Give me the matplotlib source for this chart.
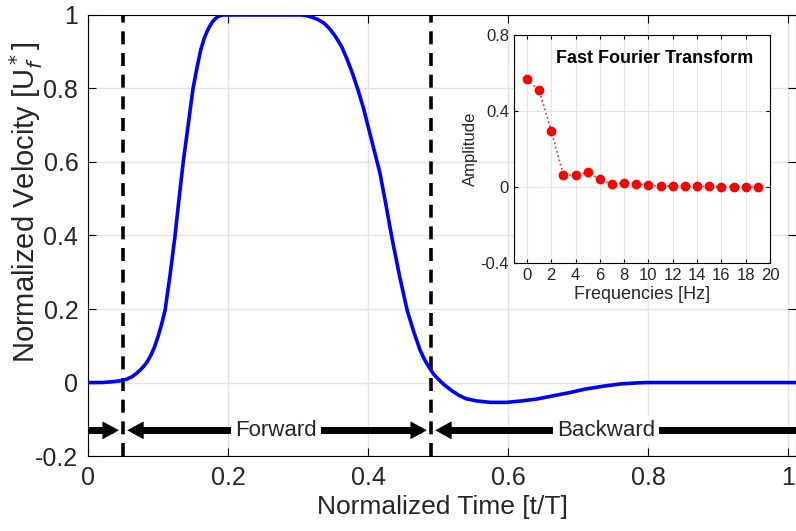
import numpy as np
import matplotlib
matplotlib.use("Agg")
import matplotlib.pyplot as plt

plt.rcParams['font.family'] = ['Liberation Sans', 'DejaVu Sans']

# main curve (normalized time, normalized velocity)
t_norm = [0.0, 0.02, 0.035, 0.047, 0.055, 0.062, 0.068, 0.074, 0.08, 0.085,
          0.09, 0.095, 0.10, 0.105, 0.11, 0.117, 0.124, 0.13, 0.136, 0.143,
          0.15, 0.156, 0.161, 0.166, 0.17, 0.174, 0.178, 0.182, 0.186, 0.19,
          0.195, 0.25, 0.305, 0.312, 0.32, 0.328, 0.337, 0.345, 0.353, 0.362,
          0.37, 0.378, 0.385, 0.393, 0.405, 0.417, 0.425, 0.434, 0.445, 0.456,
          0.465, 0.474, 0.48, 0.487, 0.494, 0.502, 0.51, 0.521, 0.53, 0.54,
          0.555, 0.575, 0.598, 0.62, 0.641, 0.665, 0.689, 0.71, 0.736, 0.76,
          0.784, 0.80, 0.9, 1.02]
u_norm = [0.0, 0.0, 0.002, 0.005, 0.009, 0.015, 0.023, 0.033, 0.045, 0.058,
          0.075, 0.097, 0.125, 0.158, 0.196, 0.29, 0.395, 0.50, 0.60, 0.70,
          0.80, 0.86, 0.905, 0.937, 0.955, 0.97, 0.982, 0.99, 0.996, 0.999,
          1.0, 1.0, 1.0, 0.998, 0.994, 0.988, 0.978, 0.963, 0.943, 0.915,
          0.88, 0.84, 0.80, 0.75, 0.66, 0.57, 0.49, 0.395, 0.29, 0.196,
          0.14, 0.09, 0.065, 0.042, 0.022, 0.006, -0.008, -0.024, -0.035, -0.044,
          -0.05, -0.054, -0.054, -0.05, -0.045, -0.036, -0.027, -0.018, -0.01, -0.004,
          -0.001, 0.0, 0.0, 0.0]

# phase boundaries
t_start = 0.05
t_switch = 0.49

# FFT inset
freqs = list(range(20))
amps = [0.566, 0.509, 0.296, 0.062, 0.062, 0.078, 0.04, 0.015, 0.022, 0.017,
        0.008, 0.006, 0.005, 0.003, 0.003, 0.003, 0.002, 0.002, 0.002, 0.002]

txt = '#262626'

fig = plt.figure(figsize=(7.96, 5.31), dpi=100)
ax = fig.add_axes([0.1106, 0.1412, 0.8894, 0.8306])

ax.plot(t_norm, u_norm, color='#0000ff', lw=2.6, zorder=3)
for tv in (t_start, t_switch):
    ax.axvline(tv, color='k', lw=2.6, dashes=(3.6, 2.4), zorder=2)

# phase arrows
ya = -0.13
gap = 0.006
segs = [(0.0, t_start - gap - 0.008), (t_start + gap + 0.008, t_switch - gap - 0.008),
        (t_switch + gap + 0.008, 1.05)]
for a, b in segs:
    ax.plot([a, b], [ya, ya], color='k', lw=5, solid_capstyle='butt', zorder=4)
heads = [(t_start - gap, 1), (t_start + gap, -1), (t_switch - gap, 1), (t_switch + gap, -1)]
for tip, d in heads:
    ax.annotate('', xy=(tip, ya), xytext=(tip - d * 0.03, ya),
                arrowprops=dict(arrowstyle='-|>,head_length=0.55,head_width=0.3',
                                color='k', lw=0.5, mutation_scale=20,
                                shrinkA=0, shrinkB=0), zorder=5)
ax.text(0.268, ya, 'Forward', ha='center', va='center', fontsize=16, color=txt,
        bbox=dict(facecolor='white', edgecolor='none', pad=3), zorder=6)
ax.text(0.74, ya, 'Backward', ha='center', va='center', fontsize=16, color=txt,
        bbox=dict(facecolor='white', edgecolor='none', pad=3), zorder=6)

ax.set_xlim(0, 1.0114)
ax.set_ylim(-0.2, 1.0)
xt = [0, 0.2, 0.4, 0.6, 0.8, 1.0]
yt = [-0.2, 0, 0.2, 0.4, 0.6, 0.8, 1.0]
ax.set_xticks(xt)
ax.set_xticklabels(['0', '0.2', '0.4', '0.6', '0.8', '1'])
ax.set_yticks(yt)
ax.set_yticklabels(['-0.2', '0', '0.2', '0.4', '0.6', '0.8', '1'])
ax.tick_params(direction='in', top=True, right=True, labelsize=18,
               labelcolor=txt, length=6, pad=7)
ax.grid(True, color='#e3e3e3', lw=1)
ax.set_axisbelow(True)
ax.set_xlabel('Normalized Time [t/T]', fontsize=19, color=txt, labelpad=4)
ax.set_ylabel(r'Normalized Velocity [U$_f^*$]', fontsize=21, color=txt,
              va='center')
ax.yaxis.set_label_coords(-0.088, 0.575)

# inset
ax2 = fig.add_axes([0.6457, 0.5047, 0.3216, 0.4293])
ax2.set_facecolor('white')
ax2.plot(freqs, amps, color='#ff2020', ls=':', lw=1.2, marker='o', ms=6,
         markeredgecolor='red', markerfacecolor='red')
ax2.set_xlim(-1.07, 20)
ax2.set_ylim(-0.4, 0.8)
ax2.set_xticks(range(0, 21, 2))
ax2.set_yticks([-0.4, 0, 0.4, 0.8])
ax2.set_yticklabels(['-0.4', '0', '0.4', '0.8'])
ax2.tick_params(direction='in', top=True, right=True, labelsize=12,
                labelcolor=txt, length=3)
ax2.grid(True, color='#e3e3e3', lw=0.8)
ax2.set_axisbelow(True)
ax2.set_xlabel('Frequencies [Hz]', fontsize=13, color=txt, labelpad=2)
ax2.set_ylabel('Amplitude', fontsize=12, color=txt, labelpad=2)
ax2.text(0.55, 0.895, 'Fast Fourier Transform', transform=ax2.transAxes,
         ha='center', va='center', fontsize=13, fontweight='bold', color='k')

fig.savefig('out.png', dpi=100)
